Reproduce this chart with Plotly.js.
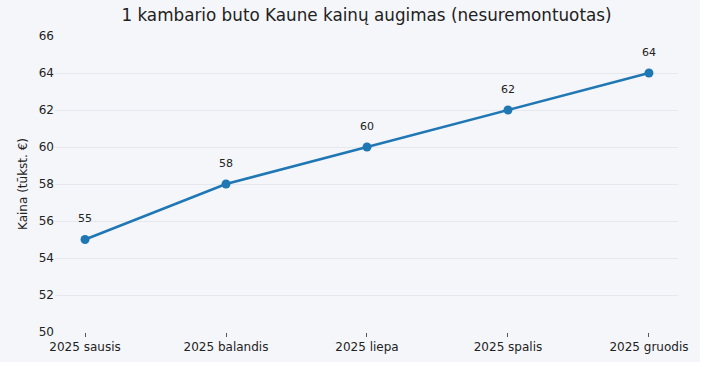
<!DOCTYPE html>
<html>
<head>
<meta charset="utf-8">
<script src="https://cdn.plot.ly/plotly-3.0.1.min.js"></script>
<style>
html,body{margin:0;padding:0;background:#ffffff;}
#chart{width:700px;height:362px;}
</style>
</head>
<body>
<div id="chart"></div>
<script>
const categories = ["2025 sausis", "2025 balandis", "2025 liepa", "2025 spalis", "2025 gruodis"];
const prices = [55, 58, 60, 62, 64];
const yTicks = [50, 52, 54, 56, 58, 60, 62, 64, 66];

const bg = "#f5f6fa";
const font = "DejaVu Sans, sans-serif";

const trace = {
  x: categories,
  y: prices,
  type: "scatter",
  mode: "lines+markers",
  line: {color: "#1f77b4", width: 2.5},
  marker: {color: "#1f77b4", size: 9},
  hoverinfo: "skip"
};

const annotations = categories.map((c, i) => ({
  x: c, y: prices[i], text: String(prices[i]),
  showarrow: false, yshift: 21,
  font: {family: font, size: 11, color: "#222"}
}));

const layout = {
  width: 700, height: 362,
  paper_bgcolor: bg, plot_bgcolor: bg,
  margin: {l: 55, r: 22, t: 36, b: 30},
  title: {text: "1 kambario buto Kaune kainų augimas (nesuremontuotas)",
          font: {family: font, size: 16.8, color: "#222"},
          xref: "paper", x: 0.5, xanchor: "center",
          yref: "container", y: 0.958, yanchor: "middle"},
  showlegend: false,
  xaxis: {
    type: "category", range: [-0.213, 4.206],
    showgrid: false, zeroline: false, showline: false,
    ticks: "outside", ticklen: 4, tickwidth: 1, tickcolor: "#555",
    tickfont: {family: font, size: 12, color: "#222"}
  },
  yaxis: {
    range: [50, 66], tickvals: yTicks,
    showgrid: true, gridcolor: "#e6e8ee", gridwidth: 1,
    zeroline: false, showline: false, ticks: "",
    tickfont: {family: font, size: 12, color: "#222"},
    title: {text: "Kaina (tūkst. €)", font: {family: font, size: 12, color: "#222"}, standoff: 8}
  },
  annotations: annotations
};

Plotly.newPlot("chart", [trace], layout, {displayModeBar: false, staticPlot: true});
</script>
</body>
</html>
